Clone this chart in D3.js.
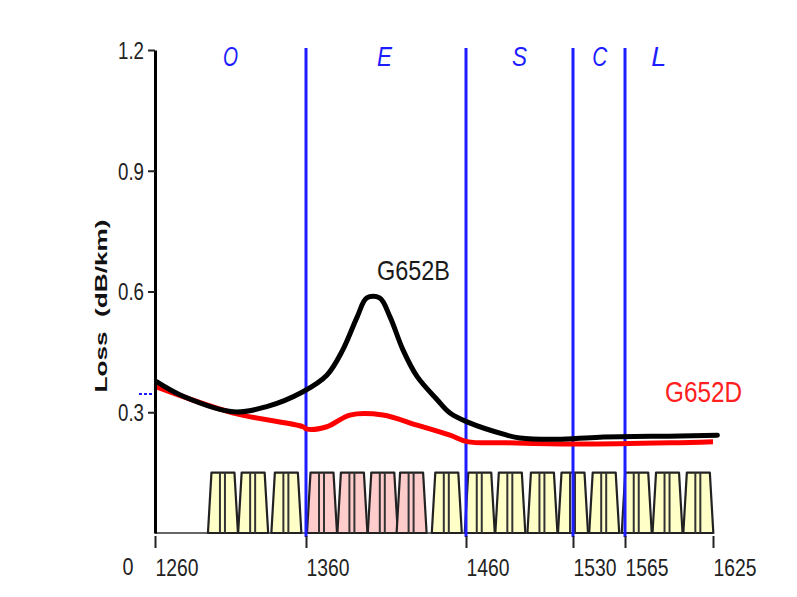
<!DOCTYPE html>
<html>
<head>
<meta charset="utf-8">
<script src="https://cdn.jsdelivr.net/npm/d3@7"></script>
<style>
  body { margin: 0; background: #fff; }
  svg { display: block; }
  text { font-family: "Liberation Sans", Arial, sans-serif; }
</style>
</head>
<body>
<svg id="chart" width="797" height="597"></svg>
<script>
// wavelength ticks (nm) and loss ticks (dB/km)
const xTicks = [1260, 1360, 1460, 1530, 1565, 1625];
const yTicks = [0.3, 0.6, 0.9, 1.2];

// band edges and band names
const bandEdges = [1360, 1460, 1530, 1565];
const bandNames = ['O', 'E', 'S', 'C', 'L'];
const bandLabelNm = [1310, 1409, 1495, 1548, 1588];

// CWDM channel boxes
const channelNm = [1305, 1325, 1347, 1370, 1389, 1408, 1426, 1448, 1469, 1489, 1510, 1530, 1551, 1573, 1594, 1615];
const channelGroup = ['n', 'n', 'n', 'w', 'w', 'w', 'w', 'n', 'n', 'n', 'n', 'n', 'n', 'n', 'n', 'n'];
const channelLevel = 0.15;

// G652B fibre loss
const g652bNm   = [1261, 1279, 1312, 1334, 1358, 1373, 1383, 1392, 1398, 1406, 1412.5, 1420.6, 1429.4, 1442, 1450, 1460.7, 1486.8, 1495.3, 1519.5, 1548, 1602.5, 1628];
const g652bLoss = [0.376, 0.339, 0.301, 0.314, 0.351, 0.392, 0.455, 0.537, 0.584, 0.584, 0.537, 0.455, 0.389, 0.331, 0.298, 0.276, 0.243, 0.236, 0.233, 0.238, 0.241, 0.243];

// G652D fibre loss
const g652dNm   = [1261, 1312, 1358, 1360.6, 1373, 1387.5, 1408, 1429.4, 1450, 1460.7, 1486.8, 1530, 1596, 1625];
const g652dLoss = [0.363, 0.298, 0.264, 0.258, 0.264, 0.293, 0.293, 0.268, 0.243, 0.227, 0.224, 0.221, 0.224, 0.227];

const svg = d3.select('#chart');

const x = d3.scaleLinear()
  .domain(xTicks)
  .range([155, 306, 466, 573, 625, 713]);

const y = d3.scaleLinear()
  .domain([0, 1.2])
  .range([533, 50]);

const blue = '#1d1dff';

// grey baseline
svg.append('line')
  .attr('x1', x(1260)).attr('x2', x(1625))
  .attr('y1', y(0)).attr('y2', y(0))
  .attr('stroke', '#666').attr('stroke-width', 2);

// channel boxes
const boxes = svg.append('g');
channelNm.forEach((c, i) => {
  const cx = x(c);
  const b = y(0), t = y(channelLevel);
  boxes.append('path')
    .attr('d', `M${cx - 15},${b} L${cx - 11.5},${t} L${cx + 11.5},${t} L${cx + 15},${b} Z`)
    .attr('fill', channelGroup[i] == 'w' ? '#ffcccc' : '#ffffc8')
    .attr('stroke', '#222')
    .attr('stroke-width', 2.2)
    .attr('stroke-linejoin', 'round');
  [-3, 2].forEach(dx => {
    boxes.append('line')
      .attr('x1', cx + dx).attr('x2', cx + dx)
      .attr('y1', t).attr('y2', b)
      .attr('stroke', '#333').attr('stroke-width', 2);
  });
});

// band edge lines
svg.selectAll('.band')
  .data(bandEdges)
  .enter()
  .append('line')
  .attr('x1', d => x(d)).attr('x2', d => x(d))
  .attr('y1', 48).attr('y2', 537)
  .attr('stroke', blue).attr('stroke-width', 3);

// band names
svg.selectAll('.bandname')
  .data(bandNames)
  .enter()
  .append('text')
  .attr('x', (d, i) => x(bandLabelNm[i]))
  .attr('y', 66)
  .attr('text-anchor', 'middle')
  .attr('font-size', 27)
  .attr('font-style', 'italic')
  .attr('fill', blue)
  .attr('textLength', 15)
  .attr('lengthAdjust', 'spacingAndGlyphs')
  .text(d => d);

// loss curves
const line = d3.line()
  .x(d => x(d[0]))
  .y(d => y(d[1]))
  .curve(d3.curveCatmullRom);

svg.append('path')
  .datum(g652dNm.map((d, i) => [d, g652dLoss[i]]))
  .attr('d', line)
  .attr('fill', 'none')
  .attr('stroke', '#ff0000')
  .attr('stroke-width', 5);

svg.append('path')
  .datum(g652bNm.map((d, i) => [d, g652bLoss[i]]))
  .attr('d', line)
  .attr('fill', 'none')
  .attr('stroke', '#000')
  .attr('stroke-width', 5)
  .attr('stroke-linecap', 'round');

// curve labels
svg.append('text')
  .attr('x', 377).attr('y', 280)
  .attr('font-size', 28)
  .attr('fill', '#1a1a1a')
  .attr('textLength', 73)
  .attr('lengthAdjust', 'spacingAndGlyphs')
  .text('G652B');

svg.append('text')
  .attr('x', 665).attr('y', 402)
  .attr('font-size', 29)
  .attr('fill', '#ff2020')
  .attr('textLength', 77)
  .attr('lengthAdjust', 'spacingAndGlyphs')
  .text('G652D');

// y axis
const yAxis = svg.append('g')
  .attr('transform', `translate(${x(1260)},0)`)
  .call(d3.axisLeft(y).tickValues(yTicks).tickSize(7).tickSizeOuter(0).tickFormat(d3.format('.1f')));
yAxis.select('.domain').attr('stroke', '#000').attr('stroke-width', 3);
yAxis.selectAll('.tick line').attr('stroke', '#222').attr('stroke-width', 2);
yAxis.selectAll('.tick text')
  .attr('x', -11)
  .attr('dy', '0.36em')
  .attr('font-size', 23)
  .attr('font-family', '"Liberation Sans", Arial, sans-serif')
  .attr('fill', '#222')
  .attr('textLength', 26)
  .attr('lengthAdjust', 'spacingAndGlyphs');

// x axis ticks and labels
const xAxis = svg.append('g')
  .attr('transform', `translate(0,${y(0) + 3})`)
  .call(d3.axisBottom(x).tickValues(xTicks).tickSize(12).tickFormat(d3.format('d')));
xAxis.select('.domain').remove();
xAxis.selectAll('.tick line').attr('stroke', '#222').attr('stroke-width', 2);
xAxis.selectAll('.tick text')
  .attr('y', 24)
  .attr('dy', '0.71em')
  .attr('text-anchor', 'start')
  .attr('font-size', 23)
  .attr('font-family', '"Liberation Sans", Arial, sans-serif')
  .attr('fill', '#222')
  .attr('textLength', 43)
  .attr('lengthAdjust', 'spacingAndGlyphs');

// zero label sits below the axis
svg.append('text')
  .attr('x', 128).attr('y', 575)
  .attr('text-anchor', 'middle')
  .attr('font-size', 23)
  .attr('fill', '#222')
  .attr('textLength', 11)
  .attr('lengthAdjust', 'spacingAndGlyphs')
  .text('0');

// small blue mark left of the axis
svg.append('line')
  .attr('x1', 139).attr('x2', 152)
  .attr('y1', 394).attr('y2', 394)
  .attr('stroke', blue).attr('stroke-width', 2)
  .attr('stroke-dasharray', '3,2');

// y axis title
svg.append('text')
  .attr('transform', 'translate(107,306) rotate(-90)')
  .attr('text-anchor', 'middle')
  .attr('font-size', 17)
  .attr('font-weight', 'bold')
  .attr('fill', '#111')
  .attr('textLength', 173)
  .attr('lengthAdjust', 'spacingAndGlyphs')
  .style('white-space', 'pre')
  .text('Loss  (dB/km)');
</script>
</body>
</html>
